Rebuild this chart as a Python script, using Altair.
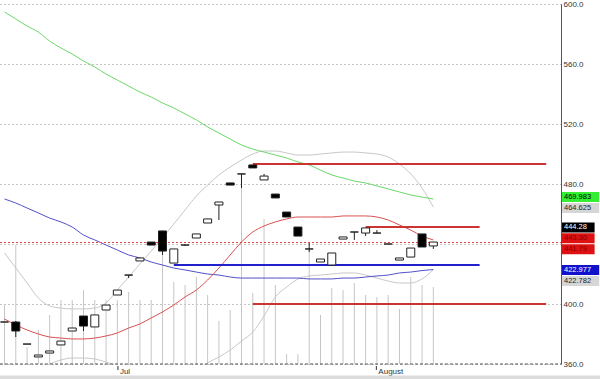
import altair as alt
import pandas as pd

# ---------------- data ----------------
bar_index = list(range(39))
opens = [388.0, 388.0, 373.3, 364.7, 367.3, 372.7, 382.0, 392.0, 384.7, 396.0, 406.0, 419.3, 428.7, 441.3,
         448.7, 427.3, 439.3, 444.0, 454.0, 466.0, 480.7, 486.7, 492.7, 482.7, 473.3, 461.3, 451.3, 436.7,
         428.0, 426.0, 443.3, 448.0, 447.3, 447.3, 440.0, 429.3, 431.3, 446.7, 438.7]
closes = [388.0, 382.0, 373.3, 366.0, 368.7, 375.3, 384.0, 385.3, 392.7, 399.3, 409.3, 419.3, 430.7, 439.3,
          435.3, 436.7, 439.3, 446.7, 456.7, 468.0, 479.3, 486.7, 490.7, 485.3, 470.7, 458.0, 445.3, 436.7,
          430.0, 434.0, 444.7, 448.0, 450.7, 447.3, 440.0, 430.7, 437.3, 438.0, 441.3]
highs = [388.0, 388.7, 373.3, 366.0, 368.7, 375.3, 384.0, 392.0, 392.7, 399.3, 409.3, 419.3, 430.7, 441.3,
         448.7, 436.7, 439.7, 446.7, 456.7, 468.0, 480.7, 486.7, 492.7, 486.7, 473.3, 461.3, 451.3, 440.7,
         430.0, 434.0, 444.7, 448.0, 450.7, 449.3, 440.0, 430.7, 437.3, 446.7, 441.3]
lows = [388.0, 378.0, 373.3, 364.7, 367.3, 372.7, 382.0, 382.0, 384.7, 396.0, 406.0, 417.3, 428.7, 439.3,
        432.7, 427.3, 438.7, 444.0, 454.0, 456.0, 479.3, 477.3, 490.7, 482.7, 470.7, 458.0, 445.3, 434.7,
        428.0, 426.0, 443.3, 442.7, 445.3, 447.3, 440.0, 429.3, 431.3, 438.0, 436.7]
volume = [60, 119, 17, 34, 49, 64, 64, 74, 64, 64, 64, 72, 64, 64, 109, 82, 79, 87, 69, 43, 54, 189, 71,
          145, 79, 10, 10, 114, 49, 76, 74, 81, 69, 67, 69, 55, 87, 79, 77]

ma_green = [594.7, 590.0, 585.3, 581.3, 575.3, 570.7, 566.7, 562.0, 558.0, 553.3, 549.3, 545.3, 541.3, 538.0,
            534.0, 530.7, 526.7, 522.7, 518.0, 514.0, 510.0, 506.0, 503.3, 501.3, 499.3, 497.3, 494.7, 492.7,
            489.3, 486.0, 484.0, 482.0, 480.7, 478.7, 476.7, 474.7, 472.7, 471.3, 470.0]
ma_blue = [470.0, 467.3, 464.0, 460.7, 457.3, 454.7, 451.3, 446.0, 442.7, 439.3, 436.0, 432.7, 430.7, 428.0,
           426.0, 424.0, 422.7, 421.3, 420.0, 419.3, 418.0, 417.3, 417.3, 417.3, 417.3, 417.3, 417.3, 416.7,
           416.7, 416.7, 417.3, 417.3, 418.0, 418.7, 419.3, 420.7, 421.3, 422.3, 423.0]
ma_red = [390.0, 386.0, 382.7, 380.0, 378.0, 377.3, 376.7, 376.7, 377.3, 378.7, 380.7, 384.0, 386.7, 390.7,
          394.7, 399.3, 404.7, 409.3, 416.0, 424.0, 432.7, 441.3, 448.0, 452.0, 454.7, 456.7, 458.0, 458.0,
          458.0, 458.0, 458.7, 458.7, 458.7, 458.0, 456.0, 452.7, 449.3, 445.3, 442.7]
bb_upper = [434.0, 424.0, 414.0, 404.0, 398.7, 397.3, 396.7, 396.7, 397.3, 400.7, 409.3, 418.0, 426.7, 435.3,
            444.0, 453.3, 462.7, 472.0, 479.3, 486.0, 491.3, 496.0, 500.0, 502.0, 502.0, 500.7, 499.3, 499.3,
            500.0, 500.7, 501.3, 501.3, 500.7, 500.0, 498.0, 493.3, 486.7, 477.3, 464.6]
bb_lower = [336.0, 344.0, 350.7, 356.0, 360.0, 362.7, 364.0, 364.0, 363.3, 361.3, 358.7, 354.7, 349.3, 344.0,
            341.3, 341.3, 346.0, 354.7, 360.7, 364.7, 369.3, 375.3, 381.3, 392.0, 404.7, 411.3, 416.7, 418.7,
            419.3, 420.0, 420.7, 420.7, 419.3, 417.3, 415.3, 414.0, 414.0, 416.7, 422.8]

hl_start = [22, 32, 22, 15]
hl_end = [48, 42.1, 48, 42.1]
hl_price = [493.3, 451.3, 400.0, 426.0]
hl_color = ["#cc3333", "#cc3333", "#cc3333", "#2020cc"]
last_price_line = 441.0

label_values = [469.983, 464.625, 444.28, 443.30, 441.79, 422.977, 422.782]
label_texts = ["469.983", "464.625", "444.28", "443.30", "441.79", "422.977", "422.782"]
label_bg = ["#33ee33", "#d6d6d6", "#000000", "#dd1111", "#dd1111", "#1111cc", "#d6d6d6"]
label_fg = ["#000000", "#222222", "#ffffff", "#8a0000", "#8a0000", "#ffffff", "#222222"]
label_nudge_px = [-2, 1, -10.1, -0.8, 7.9, 0.5, 11.2]

month_names = ["Jul", "August"]
month_pos = [10.05, 32.95]
price_ticks = [360, 400, 440, 480, 520, 560, 600]
hidden_tick = 440  # its label sits under the value boxes in the reference

# ---------------- chart ----------------
FONT = "Liberation Sans"
W, H = 561, 360
xs = alt.Scale(domain=[0.0435, 48.87], nice=False, zero=False)
ys = alt.Scale(domain=[360, 600], nice=False, zero=False)
y_axis = alt.Axis(orient="right", values=price_ticks, grid=True, gridDash=[1, 3],
                  labelExpr=f"datum.value == {hidden_tick} ? '' : format(datum.value, '.1f')",
                  gridColor="#8a8a8a", gridWidth=1, domainColor="#555555", ticks=False,
                  labelPadding=2, labelFontSize=8, labelFont=FONT, labelColor="#333333", title=None)


def Y(field):
    return alt.Y(field, scale=ys, axis=y_axis)


def X(field):
    return alt.X(field, scale=xs, axis=None)


df = pd.DataFrame({"i": bar_index, "open": opens, "close": closes, "high": highs, "low": lows,
                   "vol": volume})
df["fill"] = ["#ffffff" if c > o else "#000000" for o, c in zip(opens, closes)]

vol_layer = alt.Chart(df).mark_rule(color="#c6c6c6", strokeWidth=1, clip=True).encode(
    x=X("i:Q"),
    y=alt.Y("vol:Q", scale=alt.Scale(domain=[0, 360], nice=False), axis=None),
    y2=alt.datum(0),
)

layers = []
series = [("upper", bb_upper, "#c8c8c8"), ("lower", bb_lower, "#c8c8c8"),
          ("green", ma_green, "#6ad86a"), ("blue", ma_blue, "#5050c8"), ("red", ma_red, "#d85050")]
for name, vals, col in series:
    d = pd.DataFrame({"i": bar_index, "v": vals})
    layers.append(alt.Chart(d).mark_line(color=col, strokeWidth=1, clip=True, interpolate="monotone")
                  .encode(x=X("i:Q"), y=Y("v:Q")))

# bottom baseline
layers.append(alt.Chart(pd.DataFrame({"p": [360]})).mark_rule(color="#555555", strokeDash=[3, 2]).encode(
    y=Y("p:Q"), x=alt.value(0), x2=alt.value(W)))

# dotted last-price line
layers.append(alt.Chart(pd.DataFrame({"p": [last_price_line]})).mark_rule(
    color="#e04444", strokeDash=[2, 2], strokeWidth=1).encode(y=Y("p:Q"), x=alt.value(0), x2=alt.value(W)))

hl = pd.DataFrame({"s": hl_start, "e": hl_end, "p": hl_price, "c": hl_color})
layers.append(alt.Chart(hl).mark_rule(strokeWidth=2, clip=True).encode(
    x=X("s:Q"), x2="e:Q", y=Y("p:Q"), color=alt.Color("c:N", scale=None)))

# wicks and bodies
layers.append(alt.Chart(df).mark_rule(color="#222222", strokeWidth=1, clip=True).encode(
    x=X("i:Q"), y=Y("low:Q"), y2="high:Q"))
layers.append(alt.Chart(df).mark_bar(size=8, stroke="#222222", strokeWidth=1, clip=True).encode(
    x=X("i:Q"), y=Y("open:Q"), y2="close:Q", fill=alt.Fill("fill:N", scale=None)))

# value labels on the right axis
for val, txt, bg, fg, nudge in zip(label_values, label_texts, label_bg, label_fg, label_nudge_px):
    c = val - nudge / 1.5
    d = pd.DataFrame({"c": [c], "t": [c + 5 / 1.5], "b": [c - 5 / 1.5], "txt": [txt]})
    wpx = len(txt) * 4.6 + 5
    layers.append(alt.Chart(d).mark_rect(fill=bg).encode(
        x=alt.value(W + 1), x2=alt.value(W + 1 + wpx), y=Y("t:Q"), y2="b:Q"))
    layers.append(alt.Chart(d).mark_text(align="left", baseline="middle", font=FONT, fontSize=7.5,
                                         color=fg).encode(x=alt.value(W + 3), y=Y("c:Q"), text="txt:N"))

# month labels
md = pd.DataFrame({"pos": month_pos, "name": month_names})
layers.append(alt.Chart(md).mark_rule(color="#333333").encode(
    x=X("pos:Q"), y=alt.value(H + 2), y2=alt.value(H + 6)))
layers.append(alt.Chart(md).mark_text(align="left", baseline="middle", font=FONT, fontSize=8,
                                      color="#333333", dx=2).encode(
    x=X("pos:Q"), y=alt.value(H + 8), text="name:N"))

# window-edge strip at the bottom
layers.append(alt.Chart(pd.DataFrame({"a": [0]})).mark_rect(fill="#dcdcdc").encode(
    x=alt.value(0), x2=alt.value(600), y=alt.value(H + 11.5), y2=alt.value(H + 15)))

price_layer = alt.layer(*layers)

chart = alt.layer(vol_layer, price_layer).resolve_scale(y="independent").properties(
    width=W, height=H, autosize="none",
    padding={"left": 0, "top": 4, "right": 39, "bottom": 15},
    background="white",
).configure_view(stroke=None)

chart.save("out.html", embed_options={"renderer": "svg", "actions": False})
